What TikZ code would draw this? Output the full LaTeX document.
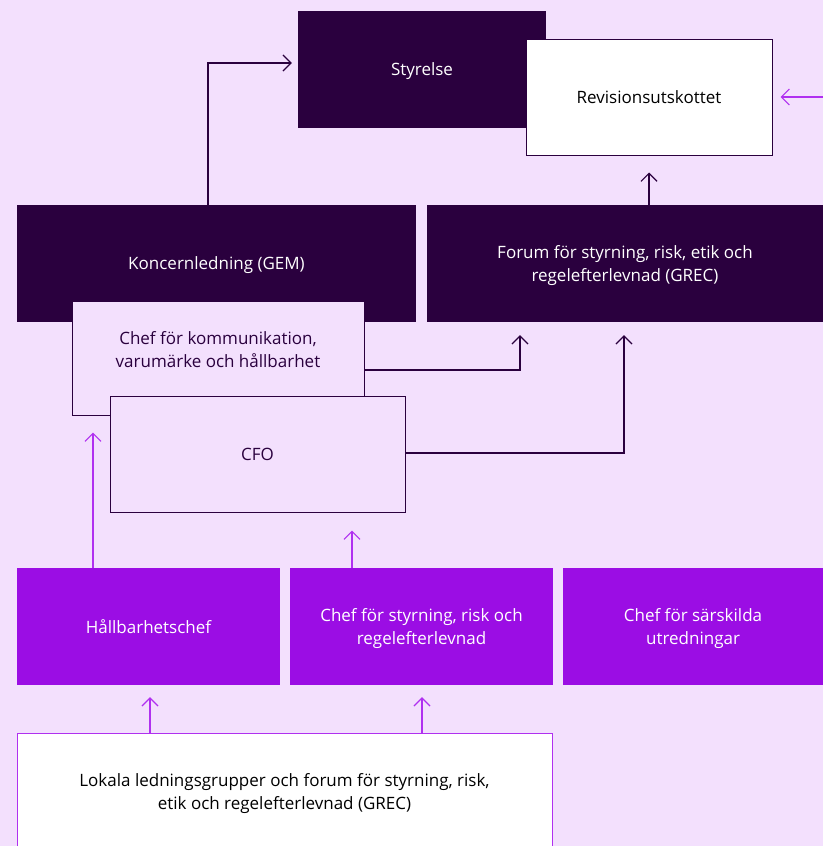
\documentclass[tikz,border=0pt]{standalone}
\usepackage{fontspec}
\setmainfont{Open Sans}
\usetikzlibrary{arrows.meta}

\definecolor{bgpink}{HTML}{F3E0FD}
\definecolor{darkplum}{HTML}{2A003E}
\definecolor{violetbox}{HTML}{9B0DE4}
\definecolor{violetline}{HTML}{B030F0}

\tikzset{
  boxbase/.style={inner sep=0pt, align=center, text depth=0pt},
  boxdark/.style={boxbase, fill=darkplum, text=white},
  boxlight/.style={boxbase, fill=bgpink, draw=darkplum, line width=1pt, text=darkplum},
  boxwhite/.style={boxbase, fill=white, draw=darkplum, line width=1pt, text=black},
  boxviolet/.style={boxbase, fill=violetbox, text=white},
  boxopen/.style={boxbase, fill=white, draw=violetline, line width=1pt, text=black},
  arrdark/.style={draw=darkplum, line width=1.2pt, -{Straight Barb[length=8pt,width=16pt]}},
  arrviolet/.style={draw=violetline, line width=1.2pt, -{Straight Barb[length=8pt,width=16pt]}},
}

\begin{document}
\begin{tikzpicture}[x=1pt,y=-1pt, font=\fontsize{17}{23}\selectfont]
    \fill[bgpink] (0,0) rectangle (823,846);
    \useasboundingbox (0,0) rectangle (823,846);
    % top row
    \node[boxdark, minimum width=248pt, minimum height=117pt] (sty) at (422,69.5) {Styrelse};
    \node[boxwhite, minimum width=246pt, minimum height=116pt] (rev) at (649,97) {Revisionsutskottet};
    \coordinate (edge) at (823,97);
    % management row
    \node[boxdark, minimum width=399pt, minimum height=117pt] (gem) at (216.5,263.5) {Koncernledning (GEM)};
    \node[boxdark, minimum width=396pt, minimum height=117pt] (grec) at (625,263.5)
    {Forum för styrning, risk, etik och\\regelefterlevnad (GREC)};
    \node[boxlight, minimum width=292pt, minimum height=114pt,
    label={[text=darkplum, align=center, text depth=0pt, yshift=9pt]center:{Chef för kommunikation,\\varumärke och hållbarhet}}]
    (komm) at (218,358) {};
    \node[boxlight, minimum width=295pt, minimum height=116pt] (cfo) at (257.5,454) {CFO};
    % functions row
    \node[boxviolet, minimum width=263pt, minimum height=117pt] (hal) at (148.5,626.5) {Hållbarhetschef};
    \node[boxviolet, minimum width=263pt, minimum height=117pt] (styr) at (421.5,626.5)
    {Chef för styrning, risk och\\regelefterlevnad};
    \node[boxviolet, minimum width=260pt, minimum height=117pt] (sar) at (693,626.5)
    {Chef för särskilda\\utredningar};
    \node[boxopen, minimum width=535pt, minimum height=117pt] (lok) at (284.5,791.5)
    {Lokala ledningsgrupper och forum för styrning, risk,\\etik och regelefterlevnad (GREC)};
    % connectors
    \draw[arrdark] ([xshift=-8.5pt]gem.north) |- ([xshift=-6pt,yshift=6.5pt]sty.west);
    \draw[arrdark] ([xshift=24pt]grec.north) -- ([yshift=-17pt]rev.south);
    \draw[arrdark] ([yshift=-12pt]komm.east) -| ([xshift=-105pt,yshift=-13pt]grec.south);
    \draw[arrdark] ([yshift=1pt]cfo.east) -| ([xshift=-1pt,yshift=-13pt]grec.south);
    \draw[arrviolet] (edge) -- ([xshift=8pt]rev.east);
    \draw[arrviolet] ([xshift=-55.5pt]hal.north) -- ([xshift=-125pt,yshift=-17pt]komm.south);
    \draw[arrviolet] ([xshift=-69.5pt]styr.north) -- ([xshift=94.5pt,yshift=-18pt]cfo.south);
    \draw[arrviolet] ([xshift=-134.5pt]lok.north) -- ([xshift=1.5pt,yshift=-12pt]hal.south);
    \draw[arrviolet] ([xshift=137.5pt]lok.north) -- ([xshift=0.5pt,yshift=-12pt]styr.south);
  \end{tikzpicture}
\end{document}
